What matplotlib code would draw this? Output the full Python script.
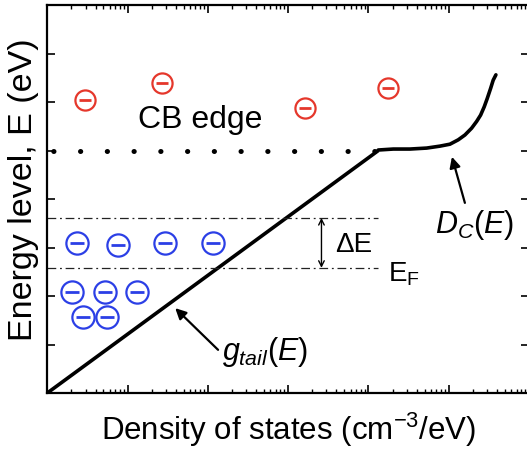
import matplotlib
matplotlib.use("Agg")
import matplotlib.pyplot as plt
from matplotlib.ticker import LogLocator, NullFormatter, MultipleLocator

plt.rcParams['font.family'] = ['Liberation Sans', 'DejaVu Sans']
plt.rcParams['mathtext.fontset'] = 'custom'
plt.rcParams['mathtext.rm'] = 'Liberation Sans'
plt.rcParams['mathtext.it'] = 'Liberation Sans:italic'

# band tail (exponential tail -> straight line on log-x)
tail_dos = [1e15, 1.33e19]
tail_e = [0.0, 5.0]

# conduction band density of states above the edge
dc_dos = [1.324e19, 2.04e19, 3.29e19, 5.31e19, 7.77e19, 1.035e20, 1.313e20,
          1.592e20, 1.928e20, 2.228e20, 2.496e20, 2.767e20, 3.015e20,
          3.325e20, 3.58e20, 3.87e20]
dc_e = [5.01, 5.03, 5.03, 5.05, 5.09, 5.13, 5.22, 5.32, 5.46, 5.60, 5.73,
        5.90, 6.07, 6.28, 6.45, 6.56]

e_cb = 5.0
e_quasi = 3.61
e_fermi = 2.58
level_end = 1.3e19

# free electrons above the band edge
free_dos = [2.95e15, 2.68e16, 1.62e18, 1.74e19]
free_e = [6.04, 6.39, 5.88, 6.29]

# trapped electrons in the tail
trap_dos = [2.35e15, 7.6e15, 2.92e16, 1.16e17, 2.03e15, 5.25e15, 1.31e16, 2.79e15, 5.53e15]
trap_e = [3.09, 3.05, 3.09, 3.09, 2.08, 2.08, 2.08, 1.57, 1.57]

red = '#e5372b'
blue = '#2b3fe6'

fig = plt.figure(figsize=(5.27, 4.53), dpi=100)
ax = fig.add_axes([47.3 / 527, 60 / 453, 481.7 / 527, 388 / 453])

ax.set_xscale('log')
ax.set_xlim(1e15, 1e21)
ax.set_ylim(0, 8)

# CB edge dotted line
ax.plot([1e15, tail_dos[-1]], [e_cb, e_cb], color='black', lw=3.6,
        linestyle=(4.1, (0.05, 5.3)), dash_capstyle='round')
ax.plot(tail_dos, tail_e, color='black', lw=2.6, solid_capstyle='butt')
ax.plot(dc_dos, dc_e, color='black', lw=2.6, solid_capstyle='round',
        solid_joinstyle='round')

for lev in (e_quasi, e_fermi):
    ax.plot([1e15, level_end], [lev, lev], color='#222222', lw=0.9,
            linestyle=(0, (7, 3, 1.5, 3)))

# electrons
ax.plot(free_dos, free_e, 'o', ms=14.5, mfc='white', mec=red, mew=1.6)
ax.plot(free_dos, free_e, '_', ms=8.5, mec=red, mew=2.0)
ax.plot(trap_dos, trap_e, 'o', ms=16, mfc='white', mec=blue, mew=1.6)
ax.plot(trap_dos, trap_e, '_', ms=9.5, mec=blue, mew=2.0)

# labels and arrows
ax.text(8.0e16, 5.63, 'CB edge', fontsize=23, ha='center', va='center')
ax.annotate('', xy=(3.92e16, 1.75), xytext=(1.34e17, 0.89),
            arrowprops=dict(arrowstyle='-|>', color='black', lw=1.6,
                            mutation_scale=16, shrinkA=0, shrinkB=0))
ax.text(1.51e17, 0.85, r'$\mathit{g}_{\mathit{tail}}\mathit{(E)}$',
        fontsize=22, ha='left', va='center')
ax.annotate('', xy=(1.097e20, 4.87), xytext=(1.59e20, 3.92),
            arrowprops=dict(arrowstyle='-|>', color='black', lw=1.6,
                            mutation_scale=16, shrinkA=0, shrinkB=0))
ax.text(6.7e19, 3.46, r'$\mathit{D}_{\mathit{C}}\mathit{(E)}$',
        fontsize=22, ha='left', va='center')
ax.annotate('', xy=(2.6e18, e_quasi), xytext=(2.6e18, e_fermi),
            arrowprops=dict(arrowstyle='<->', color='black', lw=1.0,
                            mutation_scale=10, shrinkA=0, shrinkB=0))
ax.text(3.8e18, 3.05, '\u0394E', fontsize=20, ha='left', va='center')
ax.text(1.74e19, 2.45, r'E$_{\mathrm{F}}$', fontsize=20, ha='left', va='center')

ax.set_xlabel('Density of states (cm$^{\\mathrm{-3}}$/eV)', fontsize=22.5, labelpad=13)
ax.set_ylabel('Energy level, E (eV)', fontsize=24.5)
ax.yaxis.set_label_coords(-0.017, 0.523)

ax.yaxis.set_major_locator(MultipleLocator(1))
ax.xaxis.set_major_locator(LogLocator(base=10, numticks=10))
ax.xaxis.set_minor_locator(LogLocator(base=10, subs=range(2, 10), numticks=20))
ax.xaxis.set_minor_formatter(NullFormatter())
ax.tick_params(which='both', direction='in', top=True, right=True,
               labelbottom=False, labelleft=False)
ax.tick_params(which='major', length=6, width=1.2)
ax.tick_params(which='minor', length=3, width=1.0)
for s in ax.spines.values():
    s.set_linewidth(1.6)

fig.savefig('out.png', dpi=100)
